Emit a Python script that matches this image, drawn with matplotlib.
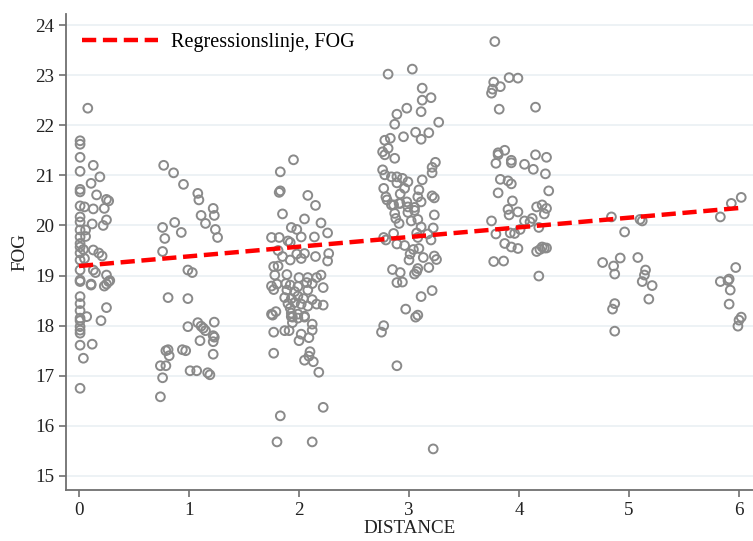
import matplotlib
matplotlib.use("Agg")
import matplotlib.pyplot as plt
import numpy as np

# ---- data (DISTANCE, FOG) ----
dist_0 = [0.08, 0.01, 0.01, 0.01, 0.13, 0.01, 0.19, 0.11, 0.01, 0.01, 0.16, 0.25, 0.27,
          0.01, 0.05, 0.13, 0.23, 0.01, 0.25, 0.22, 0.12, 0.01, 0.01, 0.06, 0.01, 0.06,
          0.01, 0.01, 0.04, 0.13, 0.18, 0.21, 0.01, 0.01, 0.05, 0.01, 0.13, 0.15, 0.25,
          0.01, 0.28, 0.11, 0.25, 0.01, 0.11, 0.23, 0.27, 0.01, 0.01, 0.25, 0.01, 0.07,
          0.01, 0.01, 0.20, 0.01, 0.01, 0.01, 0.01, 0.12, 0.04, 0.01]
fog_0 = [22.34, 21.69, 21.62, 21.36, 21.20, 21.08, 20.97, 20.84, 20.72, 20.67, 20.61, 20.52, 20.49,
         20.39, 20.37, 20.33, 20.34, 20.17, 20.11, 20.00, 20.03, 20.07, 19.91, 19.91, 19.77, 19.78,
         19.64, 19.57, 19.52, 19.51, 19.45, 19.39, 19.45, 19.31, 19.34, 19.11, 19.11, 19.06, 19.01,
         18.91, 18.90, 18.83, 18.83, 18.88, 18.81, 18.79, 18.88, 18.58, 18.44, 18.36, 18.30, 18.18,
         18.15, 18.10, 18.10, 17.98, 17.91, 17.85, 17.61, 17.63, 17.35, 16.75]

dist_1 = [0.77, 0.86, 0.95, 1.08, 1.09, 1.22, 1.11, 1.23, 0.87, 1.15, 0.76, 1.24, 0.78, 0.93,
          1.26, 0.76, 0.99, 1.03, 0.81, 0.99, 0.99, 1.08, 1.11, 1.13, 1.23, 1.22, 1.23, 1.22,
          1.22, 0.74, 0.79, 0.76, 0.74, 0.79, 0.82, 0.81, 0.94, 0.97, 1.01, 1.07, 1.10, 1.17,
          1.19, 1.15]
fog_1 = [21.20, 21.05, 20.82, 20.64, 20.51, 20.34, 20.20, 20.20, 20.06, 20.04, 19.96, 19.92, 19.74, 19.86,
         19.76, 19.48, 19.11, 19.06, 18.56, 18.54, 17.98, 18.06, 17.99, 17.95, 18.07, 17.80, 17.77, 17.68,
         17.43, 17.20, 17.20, 16.96, 16.58, 17.50, 17.40, 17.52, 17.52, 17.50, 17.10, 17.10, 17.70, 17.06,
         17.02, 17.90]

dist_2 = [1.95, 1.83, 1.82, 1.83, 2.08, 2.15, 1.85, 2.05, 2.20, 1.93, 1.98, 2.26, 1.75, 1.82,
          2.02, 2.14, 1.90, 1.92, 1.81, 1.85, 1.92, 2.02, 1.98, 2.15, 2.27, 2.26, 2.05, 1.77,
          1.81, 1.78, 1.89, 2.00, 2.08, 2.16, 2.20, 1.75, 1.80, 1.88, 1.92, 1.99, 2.07, 2.12,
          2.08, 2.22, 1.77, 1.89, 1.96, 1.87, 1.93, 1.99, 2.04, 2.12, 1.90, 1.96, 2.02, 2.08,
          2.16, 2.22, 1.92, 1.75, 1.79, 1.93, 1.99, 2.05, 1.94, 1.76, 1.93, 1.99, 2.05, 1.94,
          2.12, 2.12, 1.77, 1.87, 1.91, 2.02, 2.09, 2.00, 1.77, 2.10, 2.09, 2.05, 2.13, 2.18,
          2.22, 1.83, 1.80, 2.12]
fog_2 = [21.31, 21.07, 20.66, 20.69, 20.60, 20.40, 20.23, 20.13, 20.05, 19.96, 19.92, 19.85, 19.76, 19.76,
         19.77, 19.77, 19.69, 19.66, 19.50, 19.38, 19.31, 19.34, 19.43, 19.38, 19.44, 19.29, 19.44, 19.18,
         19.19, 19.01, 19.02, 18.96, 18.96, 18.96, 19.01, 18.79, 18.83, 18.84, 18.81, 18.78, 18.86, 18.84,
         18.71, 18.76, 18.72, 18.71, 18.68, 18.56, 18.54, 18.59, 18.54, 18.52, 18.44, 18.46, 18.43, 18.39,
         18.43, 18.41, 18.35, 18.23, 18.28, 18.25, 18.23, 18.19, 18.17, 18.21, 18.18, 18.15, 18.17, 18.06,
         18.03, 17.91, 17.87, 17.90, 17.90, 17.83, 17.76, 17.70, 17.45, 17.48, 17.39, 17.31, 17.28, 17.07,
         16.37, 16.20, 15.68, 15.68]

dist_3 = [3.03, 2.81, 3.12, 3.12, 3.20, 2.98, 2.89, 3.11, 3.27, 2.87, 3.06, 3.18, 3.11, 2.95,
          2.83, 2.78, 2.81, 2.76, 2.78, 2.87, 3.24, 3.21, 3.21, 2.76, 2.78, 2.84, 2.89, 2.94,
          2.99, 3.12, 2.89, 2.77, 2.96, 3.09, 2.79, 2.92, 3.08, 3.21, 3.23, 2.86, 2.91, 2.98,
          3.05, 3.11, 2.80, 2.84, 2.92, 2.99, 2.87, 2.99, 3.05, 3.23, 2.88, 3.02, 3.08, 2.91,
          3.11, 3.22, 3.07, 2.86, 3.17, 2.77, 2.79, 3.08, 3.20, 2.89, 2.96, 3.04, 3.09, 3.01,
          3.13, 3.23, 3.25, 3.00, 2.85, 2.92, 3.08, 3.18, 3.07, 3.05, 2.89, 2.94, 3.21, 3.11,
          2.97, 3.06, 3.08, 2.77, 2.75, 2.89, 3.22]
fog_3 = [23.12, 23.02, 22.74, 22.50, 22.55, 22.34, 22.22, 22.27, 22.06, 22.02, 21.86, 21.85, 21.72, 21.77,
         21.74, 21.70, 21.54, 21.47, 21.41, 21.34, 21.26, 21.16, 21.05, 21.11, 21.01, 20.97, 20.97, 20.94,
         20.87, 20.91, 20.85, 20.74, 20.74, 20.71, 20.57, 20.63, 20.57, 20.59, 20.55, 20.41, 20.44, 20.47,
         20.36, 20.47, 20.51, 20.41, 20.44, 20.37, 20.24, 20.26, 20.30, 20.21, 20.14, 20.09, 20.12, 20.04,
         19.97, 19.95, 19.85, 19.84, 19.83, 19.76, 19.71, 19.76, 19.71, 19.63, 19.60, 19.52, 19.54, 19.43,
         19.36, 19.39, 19.32, 19.31, 19.12, 19.06, 19.14, 19.16, 19.08, 19.03, 18.86, 18.87, 18.70, 18.58,
         18.33, 18.17, 18.21, 18.00, 17.87, 17.20, 15.54]

dist_4 = [3.78, 3.91, 3.99, 3.77, 3.83, 3.76, 3.75, 3.82, 4.15, 3.81, 3.87, 3.93, 4.15, 4.25,
          3.81, 3.79, 3.93, 4.05, 4.13, 4.24, 3.83, 3.90, 3.93, 3.81, 4.27, 3.94, 4.16, 4.21,
          4.25, 3.90, 3.99, 4.23, 3.91, 4.12, 3.75, 4.05, 4.10, 4.18, 4.01, 3.92, 3.96, 3.79,
          3.87, 3.93, 3.99, 4.21, 4.23, 4.19, 4.25, 4.16, 3.77, 3.86, 4.18]
fog_4 = [23.67, 22.95, 22.94, 22.86, 22.77, 22.72, 22.64, 22.32, 22.36, 21.45, 21.50, 21.30, 21.41, 21.36,
         21.41, 21.24, 21.25, 21.22, 21.12, 21.03, 20.92, 20.89, 20.83, 20.65, 20.69, 20.49, 20.37, 20.41,
         20.34, 20.32, 20.27, 20.23, 20.21, 20.14, 20.09, 20.09, 20.07, 19.96, 19.92, 19.85, 19.84, 19.83,
         19.64, 19.57, 19.54, 19.57, 19.55, 19.52, 19.55, 19.48, 19.28, 19.29, 18.99]

dist_5 = [4.84, 5.10, 5.12, 4.96, 4.76, 4.92, 5.08, 4.86, 4.87, 5.15, 5.14, 5.12, 5.21, 5.18,
          4.87, 4.85, 4.87]
fog_5 = [20.17, 20.12, 20.09, 19.87, 19.26, 19.35, 19.36, 19.19, 19.03, 19.11, 19.01, 18.88, 18.80, 18.53,
         18.44, 18.33, 17.89]

dist_6 = [6.02, 5.93, 5.83, 5.97, 5.83, 5.91, 5.90, 5.92, 5.91, 6.02, 6.00, 5.99]
fog_6 = [20.56, 20.44, 20.17, 19.16, 18.88, 18.93, 18.90, 18.71, 18.43, 18.17, 18.11, 17.99]

reg_intercept = 19.19
reg_slope = 0.193
legend_label = "Regressionslinje, FOG"
x_ticks = [0, 1, 2, 3, 4, 5, 6]
y_ticks = [15, 16, 17, 18, 19, 20, 21, 22, 23, 24]

distance = np.array(dist_0 + dist_1 + dist_2 + dist_3 + dist_4 + dist_5 + dist_6)
fog = np.array(fog_0 + fog_1 + fog_2 + fog_3 + fog_4 + fog_5 + fog_6)

# ---- figure ----
plt.rcParams['font.family'] = ['Liberation Serif', 'DejaVu Serif']
fig = plt.figure(figsize=(7.53, 5.41), dpi=100)
ax = fig.add_axes([66 / 753, 1 - 490 / 541, 1 - 66 / 753, (490 - 14) / 541])

ax.set_xlim(-0.118, 6.127)
ax.set_ylim(14.72, 24.22)

for t in y_ticks:
    ax.axhline(t, color='#eaf0f3', lw=1.2, zorder=0)

ax.scatter(distance, fog, s=40, facecolors='none', edgecolors='#8a8a8a',
           linewidths=1.4, zorder=2)

xx = np.array([0, 6])
ax.plot(xx, reg_intercept + reg_slope * xx, color='#ff0000', lw=3.2,
        linestyle=(0, (3.2, 1.5)), zorder=3, label=legend_label)

for s in ['top', 'right']:
    ax.spines[s].set_visible(False)
for s in ['left', 'bottom']:
    ax.spines[s].set_color('#707070')
    ax.spines[s].set_linewidth(1.3)

ax.set_xticks(x_ticks)
ax.set_yticks(y_ticks)
ax.tick_params(axis='both', colors='#707070', labelcolor='#222222', labelsize=13.7,
               length=5, width=1.2)
ax.set_xlabel('DISTANCE', fontsize=13.7, color='#222222', labelpad=1)
ax.set_ylabel('FOG', fontsize=13.7, color='#222222', labelpad=5)

leg = ax.legend(loc='upper left', frameon=False, fontsize=14.5, handlelength=3.75,
                handletextpad=0.65, borderaxespad=0.3, bbox_to_anchor=(0.003, 0.99))

fig.savefig('out.png', dpi=100)
